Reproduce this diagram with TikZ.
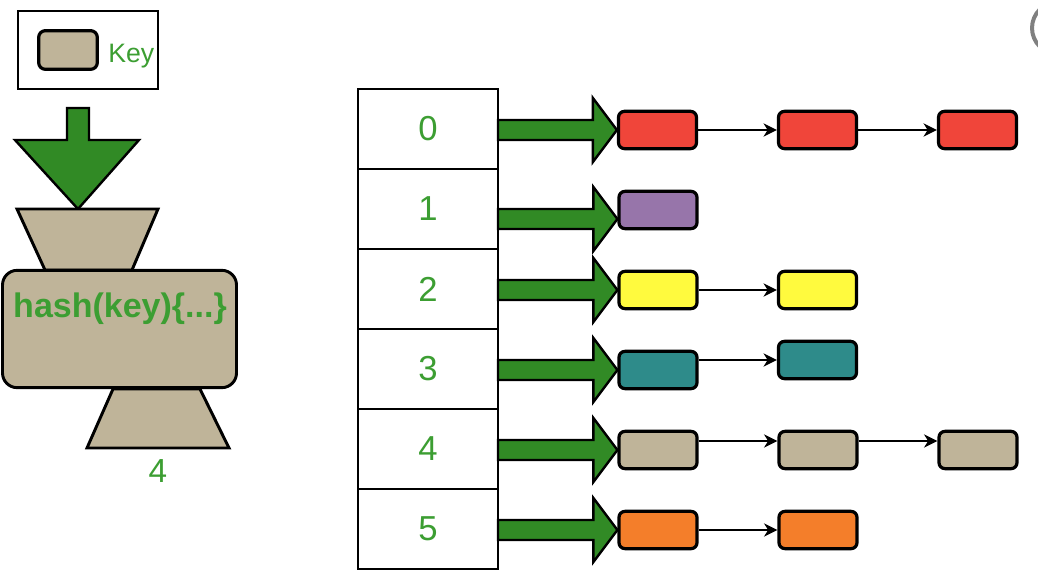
\documentclass[tikz,border=0pt]{standalone}
\usepackage{fontspec}
\setmainfont{Liberation Sans}
\usetikzlibrary{arrows.meta,calc}
\definecolor{HashGreen}{HTML}{318A25}
\definecolor{HashText}{HTML}{3C9E32}
\definecolor{HashTan}{HTML}{BFB499}
\definecolor{HashRed}{HTML}{F0453A}
\definecolor{HashPurple}{HTML}{9775AA}
\definecolor{HashYellow}{HTML}{FFFA3E}
\definecolor{HashTeal}{HTML}{2E8B8A}
\definecolor{HashOrange}{HTML}{F47E2A}
\tikzset{
  every node/.style={text=HashText},
  slot/.style={draw=black, line width=2.2pt, fill=white, minimum width=105pt, minimum height=60pt, outer sep=0pt, font=\fontsize{26}{30}\selectfont},
  entry/.style={draw=black, line width=2.4pt, rounded corners=4.5pt, minimum width=58.5pt, minimum height=28pt, inner sep=0pt},
  link/.style={-{Stealth[length=10pt,width=10pt,inset=3pt]}, draw=black, line width=1.1pt},
  fatarrow/.style={draw=black, line width=1.8pt, fill=HashGreen, line join=miter},
  hashpart/.style={draw=black, line width=2.2pt, fill=HashTan},
}
% thick green pointer from a bucket to the head of its chain
\newcommand{\fatarrow}[2]{%
  \draw[fatarrow] (#1.east |- #2) ++(0,-10) -- ($(#2)+(-24,-10)$) -- ($(#2)+(-24,-32)$)
    -- (#2) -- ($(#2)+(-24,32)$) -- ($(#2)+(-24,10)$) -- ($(#1.east |- #2)+(0,10)$) -- cycle;}

\begin{document}
\begin{tikzpicture}[x=0.75pt, y=-0.75pt]
  \useasboundingbox (0,0) rectangle (1038,584);
  % Legend: what a key looks like
  \draw[line width=2.2pt] (18,11) rectangle (158,89);
  \node[entry, fill=HashTan, minimum width=44pt, minimum height=29pt, rounded corners=5pt]
    (sample) at (68,50) {};
  \node[right, inner sep=0pt, font=\fontsize{20}{24}\selectfont] (keylabel) at (108,56) {Key};
  % Key going down into the hash function
  \draw[fatarrow] (67,108) -- (89,108) -- (89,140) -- (139,140) -- (78,209) -- (15,140)
    -- (67,140) -- cycle;
  % Hash function: funnel in, body, funnel out
  \draw[hashpart] (17,209) -- (158,209) -- (132,270) -- (45,270) -- cycle;
  \draw[hashpart] (113,389) -- (200,389) -- (229,448) -- (87,448) -- cycle;
  \node[hashpart, rounded corners=11pt, minimum width=175.5pt, minimum height=88pt]
    (hashbox) at (119.5,329) {};
  \node[font=\fontsize{25.5}{30}\selectfont\bfseries] (hashtext) at (120,309) {hash(key)\{...\}};
  \node[font=\fontsize{25}{30}\selectfont] (hashout) at (158,471) {4};
  % Bucket table
  \node[slot] (s0) at (428,129) {0};
  \node[slot] (s1) at (428,209) {1};
  \node[slot] (s2) at (428,289) {2};
  \node[slot] (s3) at (428,369) {3};
  \node[slot] (s4) at (428,449) {4};
  \node[slot] (s5) at (428,529) {5};
  % Chains of keys, one row per bucket
  \node[entry, fill=HashRed] (k00) at (657.5,130) {};
  \node[entry, fill=HashRed] (k01) at (817.5,130) {};
  \node[entry, fill=HashRed] (k02) at (977.5,130) {};
  \node[entry, fill=HashPurple] (k10) at (658,210) {};
  \node[entry, fill=HashYellow] (k20) at (658,290) {};
  \node[entry, fill=HashYellow] (k21) at (817.5,290) {};
  \node[entry, fill=HashTeal] (k30) at (658,370) {};
  \node[entry, fill=HashTeal] (k31) at (817.5,360) {};
  \node[entry, fill=HashTan] (k40) at (658,450) {};
  \node[entry, fill=HashTan] (k41) at (818,450) {};
  \node[entry, fill=HashTan] (k42) at (978,450) {};
  \node[entry, fill=HashOrange] (k50) at (658,530) {};
  \node[entry, fill=HashOrange] (k51) at (818,530) {};
  % Bucket pointers
  \coordinate (t1) at ([yshift=-6.75pt]k10.west);
  \fatarrow{s0}{k00.west}
  \fatarrow{s1}{t1}
  \fatarrow{s2}{k20.west}
  \fatarrow{s3}{k30.west}
  \fatarrow{s4}{k40.west}
  \fatarrow{s5}{k50.west}
  % Next links inside the chains
  \draw[link] (k00) -- (k01);
  \draw[link] (k01) -- (k02);
  \draw[link] (k20) -- (k21);
  \draw[link] (k30.east |- k31.west) -- (k31.west);
  \draw[link] ([yshift=6.75pt]k40.east) -- ([yshift=6.75pt]k41.west);
  \draw[link] ([yshift=6.75pt]k41.east) -- ([yshift=6.75pt]k42.west);
  \draw[link] (k50) -- (k51);
  % Cut-off button at the top right corner
  \draw[draw=gray, line width=3pt, fill=white] (1058,28) circle [radius=19.5pt];
\end{tikzpicture}
\end{document}
